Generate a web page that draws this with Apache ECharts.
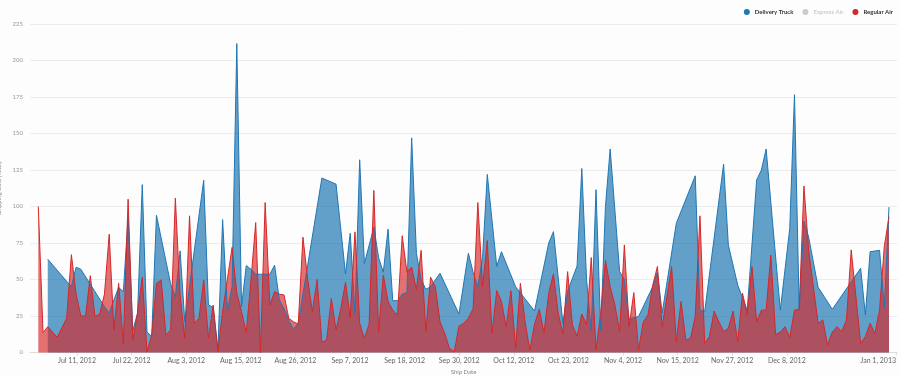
<!DOCTYPE html>
<html>
<head>
<meta charset="utf-8">
<script src="https://cdn.jsdelivr.net/npm/echarts@6/dist/echarts.min.js"></script>
<style>
  html, body { margin: 0; padding: 0; background: #fdfdfd; }
  #ship-cost { width: 900px; height: 376px; }
</style>
</head>
<body>
<div id="ship-cost"></div>
<script>
// Delivery Truck - only ships on some days, line is joined across the gaps
const truckDates = [
  '2012-07-05','2012-07-10','2012-07-11','2012-07-12','2012-07-17','2012-07-18','2012-07-19','2012-07-20','2012-07-21',
  '2012-07-22','2012-07-23','2012-07-24','2012-07-25','2012-07-26','2012-07-27','2012-07-28','2012-07-31',
  '2012-08-01','2012-08-02','2012-08-03','2012-08-07','2012-08-08','2012-08-09','2012-08-10','2012-08-11','2012-08-12',
  '2012-08-13','2012-08-14','2012-08-15','2012-08-16','2012-08-17','2012-08-18','2012-08-19','2012-08-20','2012-08-21',
  '2012-08-22','2012-08-23','2012-08-24','2012-08-25','2012-08-26','2012-08-27',
  '2012-09-01','2012-09-04','2012-09-06','2012-09-07','2012-09-08','2012-09-09','2012-09-10','2012-09-12','2012-09-13',
  '2012-09-14','2012-09-15','2012-09-16','2012-09-17','2012-09-18','2012-09-19','2012-09-20','2012-09-21','2012-09-22',
  '2012-09-23','2012-09-24','2012-09-26','2012-09-30',
  '2012-10-02','2012-10-03','2012-10-04','2012-10-05','2012-10-06','2012-10-08','2012-10-09','2012-10-12','2012-10-16',
  '2012-10-19','2012-10-20','2012-10-22','2012-10-23','2012-10-25','2012-10-26','2012-10-27','2012-10-28','2012-10-29',
  '2012-10-30','2012-10-31',
  '2012-11-01','2012-11-03','2012-11-04','2012-11-05','2012-11-07','2012-11-10','2012-11-11','2012-11-12','2012-11-15',
  '2012-11-19','2012-11-20','2012-11-21','2012-11-25','2012-11-26','2012-11-28','2012-11-30',
  '2012-12-02','2012-12-03','2012-12-04','2012-12-07','2012-12-09','2012-12-10','2012-12-11','2012-12-12','2012-12-13',
  '2012-12-15','2012-12-18','2012-12-24','2012-12-25','2012-12-26','2012-12-28','2012-12-29','2012-12-30'
];
const truckCost = [
  63.9, 45, 58.4, 57, 31.4, 27, 36, 44.5, 41.7, 93, 15, 27, 115, 14, 11, 94, 47,
  38, 69.6, 21, 118, 32.5, 31, 2, 91, 29, 45, 211.6, 31.4, 59.5, 57, 53.6, 53.6, 53.6, 53.6, 59.8, 36, 30, 22, 16, 20,
  119.5, 115.3, 53.8, 81.7, 27, 132, 61, 85.8, 65, 55, 84.5, 35.5, 35.5, 40, 41, 147, 68, 50, 43.3, 45, 54.3, 26.4,
  68, 55, 45, 65, 122, 59, 69, 45, 28.4, 75, 82.8, 20, 42, 59.3, 126, 50, 15, 111.5, 15, 100,
  139.4, 55.4, 50, 23, 24.6, 45, 55, 27, 88.6, 121, 29, 28, 129, 73.7, 46, 29,
  118.3, 125, 139.4, 29, 85, 176.6, 29.6, 90, 79, 44.7, 29.6, 57.7, 25.7, 69, 70, 31, 99.6
];

// Regular Air - one value per day, Jul 3 to Dec 30
const airDates = [
  '2012-07-03','2012-07-04','2012-07-05','2012-07-06','2012-07-07','2012-07-08','2012-07-09','2012-07-10','2012-07-11',
  '2012-07-12','2012-07-13','2012-07-14','2012-07-15','2012-07-16','2012-07-17','2012-07-18','2012-07-19','2012-07-20',
  '2012-07-21','2012-07-22','2012-07-23','2012-07-24','2012-07-25','2012-07-26','2012-07-27','2012-07-28','2012-07-29',
  '2012-07-30','2012-07-31',
  '2012-08-01','2012-08-02','2012-08-03','2012-08-04','2012-08-05','2012-08-06','2012-08-07','2012-08-08','2012-08-09',
  '2012-08-10','2012-08-11','2012-08-12','2012-08-13','2012-08-14','2012-08-15','2012-08-16','2012-08-17','2012-08-18',
  '2012-08-19','2012-08-20','2012-08-21','2012-08-22','2012-08-23','2012-08-24','2012-08-25','2012-08-26','2012-08-27',
  '2012-08-28','2012-08-29','2012-08-30','2012-08-31',
  '2012-09-01','2012-09-02','2012-09-03','2012-09-04','2012-09-05','2012-09-06','2012-09-07','2012-09-08','2012-09-09',
  '2012-09-10','2012-09-11','2012-09-12','2012-09-13','2012-09-14','2012-09-15','2012-09-16','2012-09-17','2012-09-18',
  '2012-09-19','2012-09-20','2012-09-21','2012-09-22','2012-09-23','2012-09-24','2012-09-25','2012-09-26','2012-09-27',
  '2012-09-28','2012-09-29','2012-09-30',
  '2012-10-01','2012-10-02','2012-10-03','2012-10-04','2012-10-05','2012-10-06','2012-10-07','2012-10-08','2012-10-09',
  '2012-10-10','2012-10-11','2012-10-12','2012-10-13','2012-10-14','2012-10-15','2012-10-16','2012-10-17','2012-10-18',
  '2012-10-19','2012-10-20','2012-10-21','2012-10-22','2012-10-23','2012-10-24','2012-10-25','2012-10-26','2012-10-27',
  '2012-10-28','2012-10-29','2012-10-30','2012-10-31',
  '2012-11-01','2012-11-02','2012-11-03','2012-11-04','2012-11-05','2012-11-06','2012-11-07','2012-11-08','2012-11-09',
  '2012-11-10','2012-11-11','2012-11-12','2012-11-13','2012-11-14','2012-11-15','2012-11-16','2012-11-17','2012-11-18',
  '2012-11-19','2012-11-20','2012-11-21','2012-11-22','2012-11-23','2012-11-24','2012-11-25','2012-11-26','2012-11-27',
  '2012-11-28','2012-11-29','2012-11-30',
  '2012-12-01','2012-12-02','2012-12-03','2012-12-04','2012-12-05','2012-12-06','2012-12-07','2012-12-08','2012-12-09',
  '2012-12-10','2012-12-11','2012-12-12','2012-12-13','2012-12-14','2012-12-15','2012-12-16','2012-12-17','2012-12-18',
  '2012-12-19','2012-12-20','2012-12-21','2012-12-22','2012-12-23','2012-12-24','2012-12-25','2012-12-26','2012-12-27',
  '2012-12-28','2012-12-29','2012-12-30'
];
const airCost = [
  100, 13.6, 17.7, 14, 10.4, 17, 23.4, 67, 40, 25, 25, 52.6, 24.6, 26.4, 40, 81, 15.4, 47.4, 6, 105, 8.6, 27, 51.6, 0.5,
  12, 47.4, 49.7, 12, 15.4,
  105.7, 39, 9.7, 93.6, 20, 23.4, 49.7, 9.7, 32.5, 0.5, 28, 50, 72, 40.6, 28, 13.6, 49.7, 89, 0, 102.7, 32.5, 41.7, 40,
  39.4, 23.4, 21, 19.5, 79, 50, 28, 50,
  7, 8.6, 37, 15.4, 30, 48, 24, 82.6, 20, 9.7, 19.5, 111, 14, 53, 35, 29, 25.7, 80, 55, 58.4, 43, 70, 14.3, 51.6, 45, 21,
  13, 2.9, 0.5, 18,
  20, 23.4, 30, 102.7, 45, 76.7, 13, 42.4, 35, 17.7, 42.4, 2.9, 47.4, 21, 1.7, 19.5, 29.6, 13.6, 40.6, 53.8, 26.9, 13,
  55.4, 18.9, 11.3, 26.4, 19, 65, 1.7, 27, 63,
  45, 32.6, 14.3, 73.7, 17.7, 41, 1.7, 21, 25.7, 46, 58.9, 17.7, 38, 58.9, 7.4, 34.9, 8.6, 9.7, 24.6, 93.6, 6.3, 10.9,
  28.4, 21, 14.3, 16.6, 28.4, 7.4, 40.6, 26,
  58.9, 21, 29, 29, 66.6, 12.3, 14, 17.7, 10.3, 29, 29.6, 114, 70, 45, 20, 22.3, 5, 14, 17.7, 14.3, 22.3, 70.3, 38, 6.3,
  10.9, 20, 13, 29, 72.6, 93
];

const shipModes = ['Delivery Truck', 'Express Air', 'Regular Air'];
const dateTickLabels = [
  'Jul 11, 2012', 'Jul 22, 2012', 'Aug 3, 2012', 'Aug 15, 2012', 'Aug 26, 2012', 'Sep 7, 2012', 'Sep 18, 2012',
  'Sep 30, 2012', 'Oct 12, 2012', 'Oct 23, 2012', 'Nov 4, 2012', 'Nov 15, 2012', 'Nov 27, 2012', 'Dec 8, 2012',
  'Dec 20, 2012', 'Jan 1, 2013'
];

const DAY = 86400000;
const jul1 = Date.UTC(2012, 6, 1);
// axis window and evenly spaced date ticks (in days after Jul 1)
const xMin = jul1 + 0.244 * DAY;
const xMax = jul1 + 183.69 * DAY;
const tickStart = jul1 + 10.19 * DAY;
const tickStep = 11.553 * DAY;
const tickValues = dateTickLabels.map((_, i) => tickStart + i * tickStep);

function pairs(dates, values) {
  return dates.map((d, i) => [Date.parse(d), values[i]]);
}

function setChart() {
  const chartDom = document.getElementById('ship-cost');
  const myChart = echarts.init(chartDom, null, { renderer: 'canvas' });

  const colorList = ['#1f77b4', '#cccccc', '#d62728'];

  const option = {
    backgroundColor: '#fdfdfd',
    animation: false,
    color: colorList,
    textStyle: { fontFamily: 'Lato' },
    legend: {
      data: shipModes,
      selected: { 'Express Air': false },
      icon: 'circle',
      itemWidth: 6,
      itemHeight: 6,
      itemGap: 9,
      right: 2,
      top: 4,
      inactiveColor: '#cccccc',
      textStyle: { color: '#333', fontSize: 6, fontWeight: 'bold', fontFamily: 'Lato' }
    },
    grid: {
      left: 30,
      right: 3,
      top: 24,
      bottom: 23.5,
      outerBoundsMode: 'none'
    },
    xAxis: {
      type: 'value',
      min: xMin,
      max: xMax,
      name: 'Ship Date',
      nameLocation: 'middle',
      nameGap: 13,
      nameTextStyle: { color: '#888', fontSize: 6 },
      axisLine: { show: true, lineStyle: { color: '#ddd' } },
      axisTick: { show: true, customValues: tickValues, length: 3, lineStyle: { color: '#ddd' } },
      splitLine: { show: false },
      axisLabel: {
        customValues: tickValues,
        showMaxLabel: true,
        alignMaxLabel: 'right',
        color: '#666',
        fontSize: 7,
        margin: 5,
        formatter: (v) => dateTickLabels[Math.round((v - tickStart) / tickStep)]
      }
    },
    yAxis: {
      type: 'value',
      min: 0,
      max: 225,
      interval: 25,
      name: 'Shipping Cost (Total)',
      nameLocation: 'middle',
      nameGap: 19,
      nameTextStyle: { color: '#888', fontSize: 6 },
      axisLine: { show: false },
      axisTick: { show: false },
      axisLabel: { color: '#999', fontSize: 6, margin: 7 },
      splitLine: { lineStyle: { color: '#ececec' } }
    },
    series: [
      {
        name: 'Delivery Truck',
        type: 'line',
        data: pairs(truckDates, truckCost),
        symbol: 'none',
        lineStyle: { width: 1, color: '#1f77b4' },
        areaStyle: { color: '#1f77b4', opacity: 0.7 }
      },
      {
        name: 'Express Air',
        type: 'line',
        data: [],
        symbol: 'none'
      },
      {
        name: 'Regular Air',
        type: 'line',
        data: pairs(airDates, airCost),
        symbol: 'none',
        lineStyle: { width: 1, color: '#d62728' },
        areaStyle: { color: '#d62728', opacity: 0.65 }
      }
    ]
  };

  myChart.setOption(option);
}

setChart();
</script>
</body>
</html>
